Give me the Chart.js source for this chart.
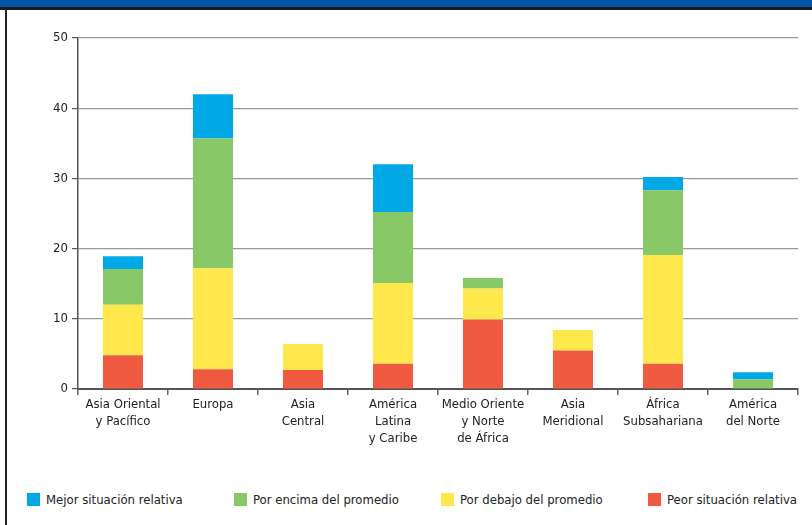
<!DOCTYPE html>
<html>
<head>
<meta charset="utf-8">
<script src="https://cdn.jsdelivr.net/npm/chart.js@4/dist/chart.umd.min.js"></script>
<style>
  html, body { margin:0; padding:0; background:#fff; }
  body { width:812px; height:525px; position:relative; overflow:hidden;
         font-family:'DejaVu Sans Condensed','Liberation Sans',sans-serif; }
  #cabecera { position:absolute; left:0; top:0; width:812px; height:7px; background:#0055a6; }
  #linea { position:absolute; left:0; top:7px; width:812px; height:3px; background:#1c1c1c; }
  #borde { position:absolute; left:5px; top:10px; width:2px; height:515px; background:#222; }
  #caja { position:absolute; left:8px; top:10px; width:804px; height:450px; }
  #leyenda { position:absolute; left:27px; top:492px; display:flex; }
  #leyenda .item { width:207px; display:flex; align-items:center; font-size:13px; color:#222; }
  #leyenda .cuadro { width:13px; height:13px; margin-right:6px; }
</style>
</head>
<body>
<div id="cabecera"></div>
<div id="linea"></div>
<div id="borde"></div>
<div id="caja"><canvas id="grafico"></canvas></div>
<div id="leyenda"></div>
<script>
// regiones
const regiones = [
  ['Asia Oriental','y Pacífico'],
  'Europa',
  ['Asia','Central'],
  ['América','Latina','y Caribe'],
  ['Medio Oriente','y Norte','de África'],
  ['Asia','Meridional'],
  ['África','Subsahariana'],
  ['América','del Norte']
];

// series (de abajo hacia arriba)
const peor   = [4.8, 2.8, 2.7, 3.6, 9.9, 5.5, 3.6, 0];
const debajo = [7.2, 14.4, 3.7, 11.5, 4.4, 2.9, 15.5, 0];
const encima = [5.1, 18.5, 0, 10.1, 1.5, 0, 9.2, 1.4];
const mejor  = [1.8, 6.3, 0, 6.8, 0, 0, 1.9, 1.0];

const nombres = ['Peor situación relativa','Por debajo del promedio','Por encima del promedio','Mejor situación relativa'];
const colores = ['#f05a40','#ffe84c','#89c866','#00a9e6'];
const ticksY = [0, 10, 20, 30, 40, 50];

const series = [peor, debajo, encima, mejor];
const datasets = series.map((d,i)=>({
  label: nombres[i],
  data: d,
  backgroundColor: colores[i],
  borderWidth: 0,
  categoryPercentage: 1,
  barPercentage: 0.445
}));

const fuente = "'DejaVu Sans Condensed','Liberation Sans',sans-serif";

new Chart(document.getElementById('grafico'), {
  type: 'bar',
  data: { labels: regiones, datasets },
  options: {
    responsive: true,
    maintainAspectRatio: false,
    animation: false,
    layout: { padding: { left:0, top:28, right:14, bottom:0 } },
    plugins: { legend: { display:false }, tooltip: { enabled:false } },
    scales: {
      x: {
        stacked: true,
        offset: true,
        afterFit: s => { s.height = 71; },
        grid: { offset:true, drawOnChartArea:false, drawTicks:true, tickLength:6, color:'#666', lineWidth:1.5 },
        border: { color:'#555', width:2 },
        ticks: { color:'#222', padding:1, maxRotation:0, autoSkip:false,
                 font:{ family:fuente, size:13, lineHeight:1.3 } }
      },
      y: {
        stacked: true,
        min: 0, max: 50,
        afterFit: s => { s.width = 70; },
        afterBuildTicks: s => { s.ticks = ticksY.map(v=>({value:v})); },
        grid: { color:'#9a9a9a', lineWidth:1.2, drawTicks:true, tickLength:6, tickColor:'#555' },
        border: { color:'#555', width:1.5 },
        ticks: { color:'#222', padding:4, font:{ family:fuente, size:13 } }
      }
    }
  }
});

// leyenda
const ley = document.getElementById('leyenda');
[3,2,1,0].forEach(i=>{
  const it = document.createElement('div');
  it.className = 'item';
  it.innerHTML = '<span class="cuadro" style="background:' + colores[i] + '"></span>' + nombres[i];
  ley.appendChild(it);
});
</script>
</body>
</html>
